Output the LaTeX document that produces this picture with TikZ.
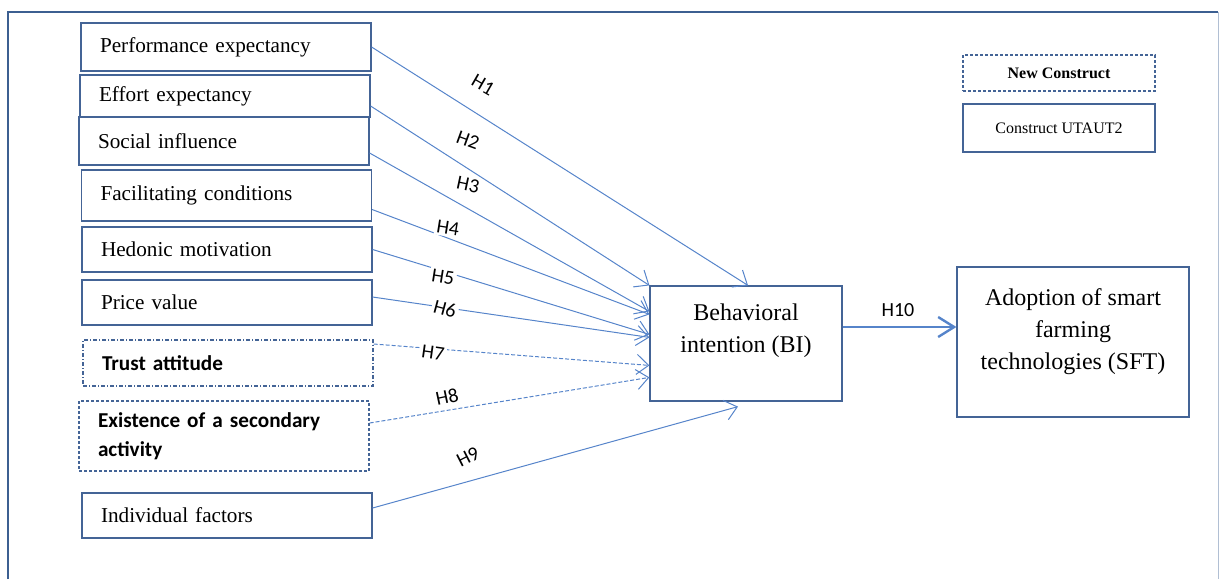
\documentclass[tikz,border=0pt]{standalone}
\usepackage{fontspec}
\setmainfont{Liberation Serif}
\newfontfamily\calibri{Carlito}
\usepackage{xcolor}
\usepackage{tikz}
\usetikzlibrary{shapes.geometric, arrows.meta}
\definecolor{boxblue}{RGB}{68,100,150}
\definecolor{linkblue}{RGB}{86,132,202}
\definecolor{frameblue}{RGB}{60,95,145}
\tikzstyle{construct} = [rectangle, draw=boxblue, line width=0.6pt, text width=126pt, inner xsep=9.5pt, inner ysep=0pt, align=left, font=\fontsize{10.6}{13}\selectfont]
\tikzstyle{newconstruct} = [construct, dash pattern=on 1.5pt off 1pt, font=\calibri\bfseries\fontsize{10.6}{14.5}\selectfont]
\tikzstyle{outcome} = [rectangle, draw=boxblue, line width=0.6pt]
\tikzstyle{legend} = [rectangle, draw=boxblue, line width=0.6pt, minimum width=96pt, font=\fontsize{8}{10}\selectfont]
\tikzstyle{hyp} = [fill=white, inner sep=1pt, font=\calibri\fontsize{10}{12}\selectfont]
\tikzstyle{link} = [draw=linkblue, line width=0.5pt, -{Straight Barb[length=6pt,width=10pt]}]
\tikzstyle{newlink} = [link, dash pattern=on 2pt off 1pt]
\begin{document}
\begin{tikzpicture}[x=0.5pt, y=-0.5pt]
    \useasboundingbox (0,0) rectangle (1219,579);
    \draw [frameblue, line width=1pt] (8,579) -- (8,12) -- (1218,12);
    \draw [frameblue!40, line width=0.5pt] (1218,12) -- (1218,579);

    \node (pe) [construct, minimum height=24pt] at (226,47) {Performance expectancy};
    \node (ee) [construct, minimum height=21pt] at (225,96) {Effort expectancy};
    \node (si) [construct, minimum height=24pt] at (224,141) {Social influence};
    \node (fc) [construct, minimum height=25.5pt] at (226.5,195.5) {Facilitating conditions};
    \node (hm) [construct, minimum height=22.5pt] at (227,249.5) {Hedonic motivation};
    \node (pv) [construct, minimum height=22.5pt] at (227,302.5) {Price value};
    \node (ta) [newconstruct, minimum height=23pt, dash pattern=on 2pt off 1pt on 0.5pt off 1pt] at (228,363) {Trust attitude};
    \node (es) [newconstruct, minimum height=35pt] at (224,436) {Existence of a secondary\\activity};
    \node (indiv) [construct, minimum height=22.5pt] at (227,515.5) {Individual factors};

    \node (bi) [outcome, minimum width=96pt, minimum height=57.5pt, label={[name=bitext, anchor=north, yshift=-5.5pt, align=center, font=\fontsize{12}{16}\selectfont]north:Behavioral\\intention (BI)}] at (746,343.5) {};
    \node (sft) [outcome, minimum width=116pt, minimum height=75pt, label={[name=sfttext, anchor=north, yshift=-7.5pt, align=center, font=\fontsize{12}{16}\selectfont]north:Adoption of smart\\farming\\technologies (SFT)}] at (1073,342) {};

    \node (newc) [legend, minimum height=18pt, dash pattern=on 1.5pt off 1pt, font=\bfseries\fontsize{8}{10}\selectfont] at (1059,73) {New Construct};
    \node (utaut) [legend, minimum height=24pt] at (1059,128) {Construct UTAUT2};

    \draw [link] (pe.east) -- ([xshift=1pt]bi.north);
    \draw [link] ([yshift=-5pt]ee.east) -- (bi.north west);
    \draw [link] ([yshift=-6pt]si.east) -- ([yshift=-13pt]bi.north west);
    \draw [link] ([yshift=-7pt]fc.east) -- ([yshift=-14.5pt]bi.north west);
    \draw [link] (hm.east) -- ([yshift=-24.5pt]bi.north west);
    \draw [link] ([yshift=2.75pt]pv.east) -- ([yshift=-26pt]bi.north west);
    \draw [newlink] ([yshift=9.5pt]ta.east) -- ([yshift=-40pt]bi.north west);
    \draw [newlink] ([yshift=6.5pt]es.east) -- ([yshift=-46pt]bi.north west);
    \draw [link] ([yshift=3.75pt]indiv.east) -- ([xshift=-4pt,yshift=-2.5pt]bi.south);
    \draw [link, line width=1.2pt, -{Straight Barb[length=8pt,width=10pt]}] ([yshift=8.25pt]bi.east) -- ([yshift=8.25pt]bi.east -| sft.west);

    \node (h1) [hyp, rotate=-30] at (483,85) {H1};
    \node (h2) [hyp, rotate=-20] at (468,140) {H2};
    \node (h3) [hyp, rotate=-12] at (468,185) {H3};
    \node (h4) [hyp, rotate=-9] at (448,228) {H4};
    \node (h5) [hyp, rotate=-9] at (443,277) {H5};
    \node (h6) [hyp, rotate=-15] at (445,309) {H6};
    \node (h7) [hyp, rotate=-8] at (433,353) {H7};
    \node (h8) [hyp, rotate=12] at (447,397) {H8};
    \node (h9) [hyp, rotate=27] at (468,457) {H9};
    \node (h10) [hyp] at (898,310) {H10};
\end{tikzpicture}
\end{document}
